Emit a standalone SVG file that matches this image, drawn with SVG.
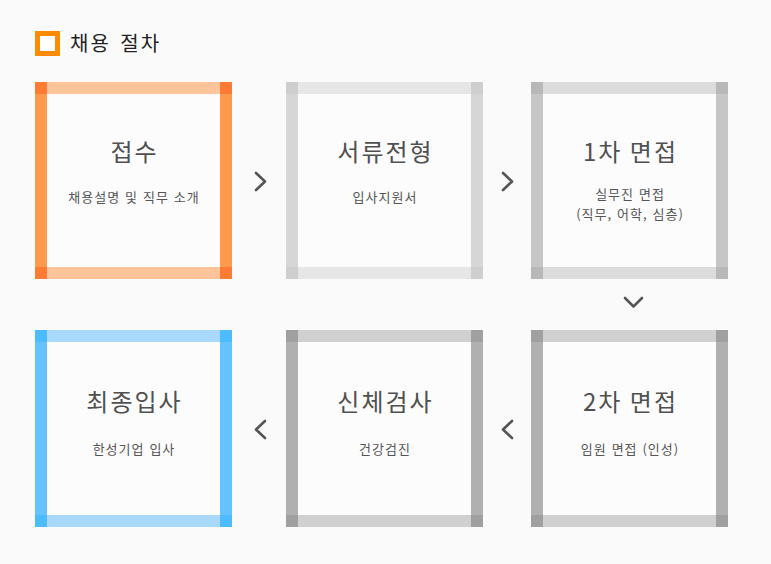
<svg xmlns="http://www.w3.org/2000/svg" width="771" height="564" viewBox="0 0 771 564">
<style>
.t{font-family:"Noto Sans CJK KR","Noto Sans",sans-serif;font-size:24px;letter-spacing:2px;fill:#505050;text-anchor:middle}
.s{font-family:"Noto Sans CJK KR","Noto Sans",sans-serif;font-size:13px;letter-spacing:1px;word-spacing:1px;fill:#555;text-anchor:middle}
.h{font-family:"Noto Sans CJK KR","Noto Sans",sans-serif;font-size:20px;letter-spacing:2px;word-spacing:3px;fill:#222}
.chev{fill:none;stroke:#555;stroke-width:2.6;stroke-linecap:round;stroke-linejoin:round}
</style>
<rect width="771" height="564" fill="#fafafa"/>
<g id="header">
<rect x="37.5" y="33.5" width="20" height="20" fill="#fff" stroke="#ff8a00" stroke-width="5"/>
<text class="h" x="70" y="51">채용 절차</text>
</g>
<g id="n1">
<rect x="35" y="82" width="197" height="197" fill="#fcfcfc"/>
<rect x="35" y="82" width="197" height="12" fill="#ffc499"/>
<rect x="35" y="267" width="197" height="12" fill="#ffc499"/>
<rect x="35" y="82" width="12" height="197" fill="#ff9a4d"/>
<rect x="220" y="82" width="12" height="197" fill="#ff9a4d"/>
<rect x="35" y="82" width="12" height="12" fill="#ff7a33"/><rect x="220" y="82" width="12" height="12" fill="#ff7a33"/>
<rect x="35" y="267" width="12" height="12" fill="#ff7a33"/><rect x="220" y="267" width="12" height="12" fill="#ff7a33"/>
<text class="t" x="134.5" y="161">접수</text>
<text class="s" x="134" y="202">채용설명 및 직무 소개</text>
</g>
<g id="n2">
<rect x="286" y="82" width="197" height="197" fill="#fcfcfc"/>
<rect x="286" y="82" width="197" height="12" fill="#e6e6e6"/>
<rect x="286" y="267" width="197" height="12" fill="#e6e6e6"/>
<rect x="286" y="82" width="12" height="197" fill="#d6d6d6"/>
<rect x="471" y="82" width="12" height="197" fill="#d6d6d6"/>
<rect x="286" y="82" width="12" height="12" fill="#cecece"/><rect x="471" y="82" width="12" height="12" fill="#cecece"/>
<rect x="286" y="267" width="12" height="12" fill="#cecece"/><rect x="471" y="267" width="12" height="12" fill="#cecece"/>
<text class="t" x="385.5" y="161">서류전형</text>
<text class="s" x="385" y="202">입사지원서</text>
</g>
<g id="n3">
<rect x="531" y="82" width="197" height="197" fill="#fcfcfc"/>
<rect x="531" y="82" width="197" height="12" fill="#dcdcdc"/>
<rect x="531" y="267" width="197" height="12" fill="#dcdcdc"/>
<rect x="531" y="82" width="12" height="197" fill="#c6c6c6"/>
<rect x="716" y="82" width="12" height="197" fill="#c6c6c6"/>
<rect x="531" y="82" width="12" height="12" fill="#b8b8b8"/><rect x="716" y="82" width="12" height="12" fill="#b8b8b8"/>
<rect x="531" y="267" width="12" height="12" fill="#b8b8b8"/><rect x="716" y="267" width="12" height="12" fill="#b8b8b8"/>
<text class="t" x="630.5" y="161">1차 면접</text>
<text class="s" x="630" y="199">실무진 면접</text>
<text class="s" x="630" y="218.5">(직무, 어학, 심층)</text>
</g>
<g id="n4">
<rect x="35" y="330" width="197" height="197" fill="#fcfcfc"/>
<rect x="35" y="330" width="197" height="12" fill="#a8d8fc"/>
<rect x="35" y="515" width="197" height="12" fill="#a8d8fc"/>
<rect x="35" y="330" width="12" height="197" fill="#66c2ff"/>
<rect x="220" y="330" width="12" height="197" fill="#66c2ff"/>
<rect x="35" y="330" width="12" height="12" fill="#4dbcff"/><rect x="220" y="330" width="12" height="12" fill="#4dbcff"/>
<rect x="35" y="515" width="12" height="12" fill="#4dbcff"/><rect x="220" y="515" width="12" height="12" fill="#4dbcff"/>
<text class="t" x="134.5" y="411">최종입사</text>
<text class="s" x="134" y="454">한성기업 입사</text>
</g>
<g id="n5">
<rect x="286" y="330" width="197" height="197" fill="#fcfcfc"/>
<rect x="286" y="330" width="197" height="12" fill="#d0d0d0"/>
<rect x="286" y="515" width="197" height="12" fill="#d0d0d0"/>
<rect x="286" y="330" width="12" height="197" fill="#b0b0b0"/>
<rect x="471" y="330" width="12" height="197" fill="#b0b0b0"/>
<rect x="286" y="330" width="12" height="12" fill="#a0a0a0"/><rect x="471" y="330" width="12" height="12" fill="#a0a0a0"/>
<rect x="286" y="515" width="12" height="12" fill="#a0a0a0"/><rect x="471" y="515" width="12" height="12" fill="#a0a0a0"/>
<text class="t" x="385.5" y="411">신체검사</text>
<text class="s" x="385" y="454">건강검진</text>
</g>
<g id="n6">
<rect x="531" y="330" width="197" height="197" fill="#fcfcfc"/>
<rect x="531" y="330" width="197" height="12" fill="#d0d0d0"/>
<rect x="531" y="515" width="197" height="12" fill="#d0d0d0"/>
<rect x="531" y="330" width="12" height="197" fill="#b0b0b0"/>
<rect x="716" y="330" width="12" height="197" fill="#b0b0b0"/>
<rect x="531" y="330" width="12" height="12" fill="#a0a0a0"/><rect x="716" y="330" width="12" height="12" fill="#a0a0a0"/>
<rect x="531" y="515" width="12" height="12" fill="#a0a0a0"/><rect x="716" y="515" width="12" height="12" fill="#a0a0a0"/>
<text class="t" x="630.5" y="411">2차 면접</text>
<text class="s" x="630" y="454">임원 면접 (인성)</text>
</g>
<g id="connectors">
<polyline class="chev" points="256,173 265,181.5 256,190"/>
<polyline class="chev" points="503,173 512,181.5 503,190"/>
<polyline class="chev" points="625,298 633.5,306.5 642,298"/>
<polyline class="chev" points="512,421 503,429.5 512,438"/>
<polyline class="chev" points="265,421 256,429.5 265,438"/>
</g>
</svg>
